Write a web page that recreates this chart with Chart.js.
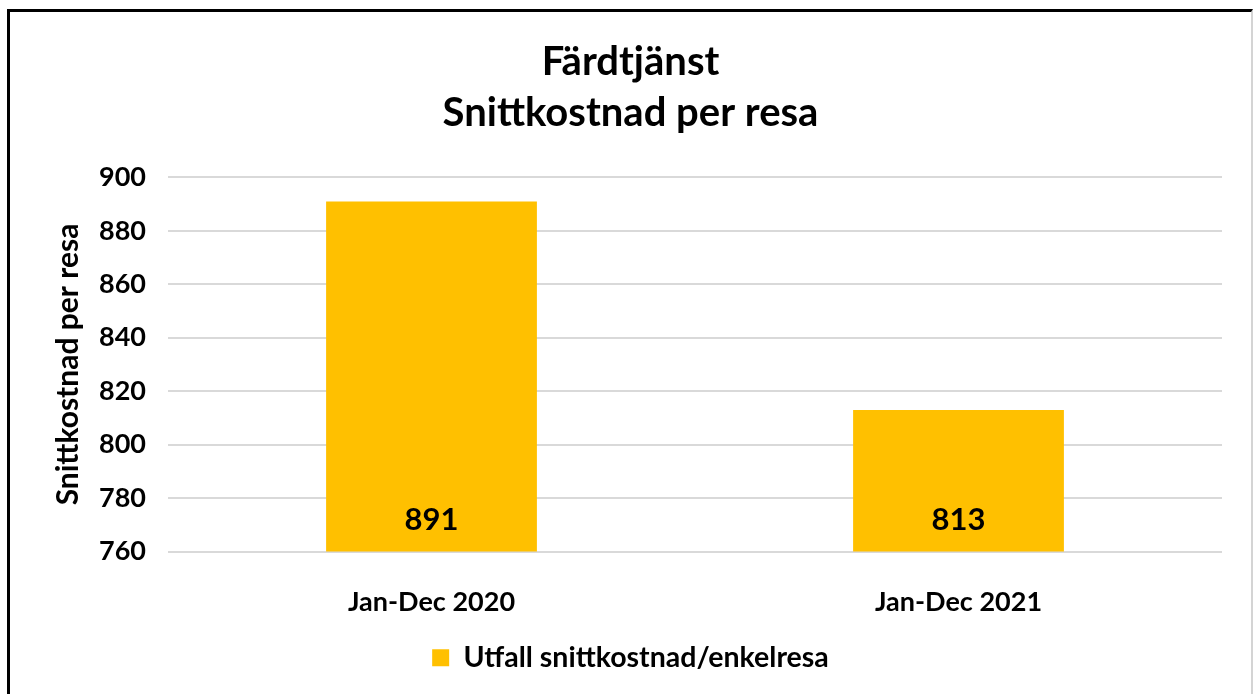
<!DOCTYPE html>
<html lang="sv">
<head>
<meta charset="UTF-8">
<title>Färdtjänst - Snittkostnad per resa</title>
<script src="https://cdn.jsdelivr.net/npm/chart.js"></script>
<style>
  html, body { margin: 0; padding: 0; background: #fff; }
  #frame {
    position: absolute; left: 7px; top: 9px; width: 1241px; height: 690px;
    border-left: 3px solid #000; border-top: 3px solid #000; border-right: 2px solid #d4d4d4;
  }
  #chart { display: block; }
</style>
</head>
<body>
<div id="frame"><canvas id="chart" width="1241" height="682"></canvas></div>
<script>
  // data
  const categories = ["Jan-Dec 2020", "Jan-Dec 2021"];
  const costPerTrip = [891, 813];
  const seriesLabel = "Utfall snittkostnad/enkelresa";
  const titleLines = ["Färdtjänst", "Snittkostnad per resa"];
  const yTitle = "Snittkostnad per resa";

  const FONT = "Lato, 'Open Sans', sans-serif";

  // value labels sitting near the bottom of each bar
  const barLabels = {
    id: "barLabels",
    afterDatasetsDraw(chart) {
      const ctx = chart.ctx;
      const meta = chart.getDatasetMeta(0);
      ctx.save();
      ctx.font = "bold 31px " + FONT;
      ctx.fillStyle = "#000";
      ctx.textAlign = "center";
      ctx.textBaseline = "middle";
      meta.data.forEach((bar, i) => {
        ctx.fillText(String(costPerTrip[i]), bar.x, chart.chartArea.bottom - 32);
      });
      ctx.restore();
    }
  };

  new Chart(document.getElementById("chart"), {
    type: "bar",
    data: {
      labels: categories,
      datasets: [{
        label: seriesLabel,
        data: costPerTrip,
        backgroundColor: "#FFC000",
        borderWidth: 0,
        barPercentage: 0.4,
        categoryPercentage: 1.0
      }]
    },
    options: {
      responsive: false,
      animation: false,
      layout: { padding: { left: 29, right: 29, top: 24, bottom: 12 } },
      plugins: {
        title: {
          display: true,
          text: titleLines,
          color: "#000",
          font: { family: FONT, size: 40, weight: "bold", lineHeight: 1.28 },
          padding: { top: 0, bottom: 39 }
        },
        legend: {
          position: "bottom",
          labels: {
            color: "#000",
            font: { family: FONT, size: 28.5, weight: "bold" },
            boxWidth: 17, boxHeight: 17, padding: 10
          }
        },
        tooltip: { enabled: false }
      },
      scales: {
        x: {
          grid: { display: false },
          border: { display: false },
          ticks: { color: "#000", font: { family: FONT, size: 27, weight: "bold" }, padding: 27 },
          afterFit(scale) { scale.height = 82; }
        },
        y: {
          min: 760, max: 900,
          ticks: { stepSize: 20, color: "#000", font: { family: FONT, size: 27, weight: "bold" }, padding: 22 },
          grid: { color: "#d9d9d9", lineWidth: 2, drawTicks: false },
          border: { display: false },
          title: {
            display: true, text: yTitle, color: "#000",
            font: { family: FONT, size: 30, weight: "bold" }, padding: { top: 11, bottom: 0 }
          },
          afterFit(scale) { scale.width = 129; }
        }
      }
    },
    plugins: [barLabels]
  });
</script>
</body>
</html>
